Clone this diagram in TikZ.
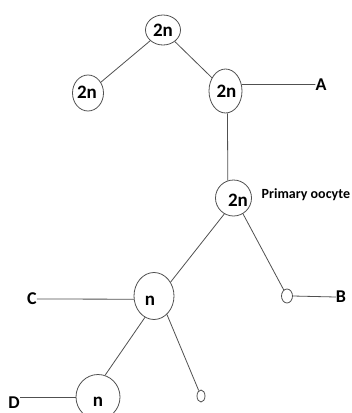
\documentclass[tikz,border=0pt]{standalone}
\usepackage{fontspec}
\setmainfont{Carlito}
\usetikzlibrary{shapes.geometric}
\definecolor{linegray}{RGB}{80,80,80}
\begin{document}
\begin{tikzpicture}[x=1pt,y=-1pt,
  cell/.style={draw=linegray,line width=0.8pt,ellipse,inner sep=0pt},
  lbl/.style={inner sep=0pt,font=\bfseries\fontsize{19}{19}\selectfont},
  side/.style={inner sep=0pt,font=\bfseries\fontsize{18}{18}\selectfont},
  conn/.style={draw=linegray,line width=0.8pt}]
\useasboundingbox (0,0) rectangle (352,413);
\clip (0,0) rectangle (352,413);
% cells
\node[cell,minimum width=35pt,minimum height=30pt] (top) at (163,30) {};
\node[cell,minimum width=31pt,minimum height=36pt] (L) at (88,93) {};
\node[cell,minimum width=33pt,minimum height=44pt] (R) at (225.5,91) {};
\node[cell,minimum width=36pt,minimum height=36pt] (po) at (233.5,198) {};
\node[cell,minimum width=40pt,minimum height=47pt] (nC) at (154,296) {};
\node[cell,minimum width=11pt,minimum height=14pt] (oB) at (287,296) {};
\node[cell,minimum width=8pt,minimum height=12pt] (o2) at (201,396) {};
\node[cell,minimum width=44pt,minimum height=45pt] (nD) at (98,397) {};
% texts in cells
\node[lbl] (ttop) at (163,30) {2n};
\node[lbl] (tL) at (87,92) {2n};
\node[lbl] (tR) at (226.5,91) {2n};
\node[lbl] (tpo) at (238,200) {2n};
\node[lbl] (tnC) at (150,301) {n};
\node[lbl] (tnD) at (98,402) {n};
\node[inner sep=0pt,anchor=west,font=\bfseries\fontsize{14}{14}\selectfont] (prim) at (261.5,194.5) {Primary oocyte};
% side labels
\node[side] (A) at (321,84.5) {A};
\node[side] (B) at (341,297) {B};
\node[side] (C) at (32,299) {C};
\node[side,anchor=north east] (D) at (20,397) {D};
% connectors
\draw[conn] (top) -- (L);
\draw[conn] (top) -- (R);
\draw[conn] (R.275) -- (po.108);
\draw[conn] (R.22) -- (A.west);
\draw[conn] (po.240) -- (nC.40);
\draw[conn] (po.301) -- (oB);
\draw[conn] (oB.east) -- (B.west);
\draw[conn] (C.east) -- (nC.189);
\draw[conn] (nC.247) -- (nD.72);
\draw[conn] (nC.305) -- (o2);
\draw[conn] (D.north east) -- (nD.west);
\end{tikzpicture}
\end{document}
